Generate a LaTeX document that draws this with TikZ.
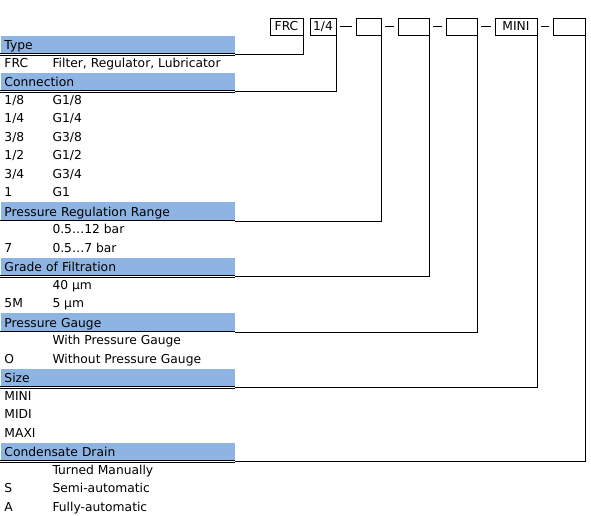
\documentclass[tikz,border=0pt]{standalone}
\usepackage{fontspec}
\setmainfont{DejaVu Sans}
\usetikzlibrary{positioning}
\definecolor{barblue}{RGB}{141,180,226}

\begin{document}
\begin{tikzpicture}[x=1pt,y=-1pt,line width=1pt,
  font=\fontsize{12.3}{14}\selectfont,
  bar/.style={fill=barblue,anchor=north west,text width=226pt,align=left,
    inner xsep=4pt,inner ysep=0pt,minimum height=18.5pt,text height=10.5pt,text depth=1pt},
  lbl/.style={anchor=west,inner sep=0pt,text height=9pt,text depth=2.5pt},
  codebox/.style={draw,minimum height=17pt,inner sep=0pt}]
\useasboundingbox (0,0) rectangle (591,515);
% order code boxes
\foreach \n/\x/\w/\t in {frc/286.5/33/FRC,con/323/26/{1/4},prs/368.5/25/{},
  flt/413.5/31/{},gau/461.5/31/{},siz/516/42/MINI,drn/569/32/{}} {
  \node[codebox,minimum width=\w pt] (\n) at (\x,26.5) {\t};
}
\foreach \a/\b in {con/prs,prs/flt,flt/gau,gau/siz,siz/drn}
  \draw[shorten <=3.5pt,shorten >=3.5pt] (\a.east) -- (\b.west);
% section bars
\foreach \n/\r/\t in {type/0/Type,conn/2/Connection,range/9/Pressure Regulation Range,
  filt/12/Grade of Filtration,gauge/15/Pressure Gauge,size/18/Size,drain/22/Condensate Drain} {
  \node[bar] (\n) at (0,{35+18.5*\r}) {\t};
  \draw[line width=0.6pt,double,double distance=1pt] (\n.south west) -- (\n.south east);
}
% codes and descriptions
\foreach \r/\t in {1/FRC,3/{1/8},4/{1/4},5/{3/8},6/{1/2},7/{3/4},8/1,11/7,14/5M,17/O,
  19/MINI,20/MIDI,21/MAXI,24/S,25/A}
  \node[lbl] (code\r) at (4,{45.25+18.5*\r}) {\t};
\foreach \r/\t in {1/{Filter, Regulator, Lubricator},3/{G1/8},4/{G1/4},5/{G3/8},
  6/{G1/2},7/{G3/4},8/G1,10/0.5…12 bar,11/0.5…7 bar,13/40 µm,14/5 µm,
  16/With Pressure Gauge,17/Without Pressure Gauge,23/Turned Manually,
  24/Semi-automatic,25/Fully-automatic}
  \node[lbl] (desc\r) at (52,{45.25+18.5*\r}) {\t};
% leaders
\foreach \a/\b in {frc/type,con/conn,prs/range,flt/filt,gau/gauge,siz/size,drn/drain}
  \draw (\a.south east) |- (\b.south east);
\end{tikzpicture}
\end{document}
